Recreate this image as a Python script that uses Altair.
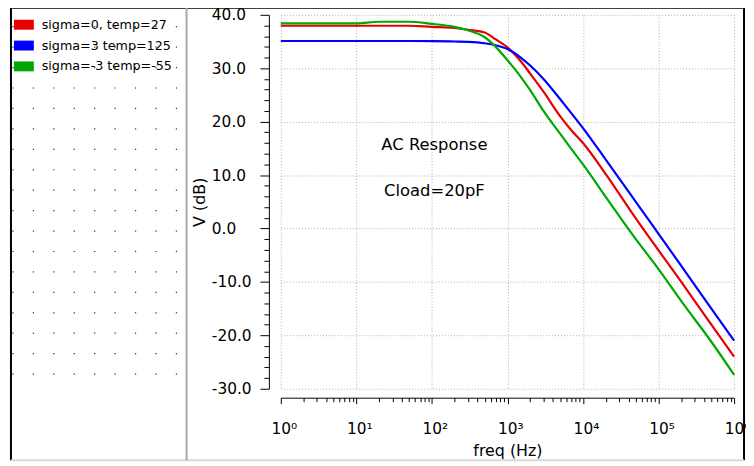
import altair as alt
import pandas as pd

# ---------------- data ----------------
freq = [1, 10, 20, 50, 100, 200, 300, 500, 700, 1000, 1500, 2000, 3000, 5000, 7000,
        10000, 20000, 50000, 100000, 200000, 500000, 1000000]
red_db = [37.95, 37.95, 37.95, 37.95, 37.75, 37.55, 37.2, 36.7, 35.4, 33.9, 31.3, 29.0,
          25.6, 21.0, 18.4, 16.0, 10.2, 1.9, -4.1, -10.0, -18.0, -24.0]
blue_db = [35.1, 35.1, 35.1, 35.1, 35.08, 35.0, 34.94, 34.68, 34.31, 33.6, 32.0, 30.5,
           28.0, 24.2, 21.6, 18.8, 12.9, 5.0, -1.0, -7.0, -15.0, -21.0]
green_db = [38.4, 38.4, 38.7, 38.7, 38.3, 37.75, 37.1, 35.8, 34.0, 31.5, 28.4, 25.9,
            22.0, 17.7, 14.9, 12.0, 5.9, -2.0, -7.6, -13.6, -21.2, -27.4]
series_names = ["sigma=0, temp=27", "sigma=3 temp=125", "sigma=-3 temp=-55"]
series_colors = ["#e60000", "#0000ff", "#00a800"]

major_x = [1, 10, 100, 1000, 10000, 100000, 1000000]
minor_x = [m * d for d in [1, 10, 100, 1000, 10000, 100000] for m in range(2, 10)]
major_y = [-30, -20, -10, 0, 10, 20, 30, 40]
minor_y = [v for v in range(-30, 41, 2) if v % 10 != 0]

ann_text = ["AC Response", "Cload=20pF"]
ann_x = [108, 108]
ann_y = [15.6, 7.1]

# ---------------- tables ----------------
rows = []
for name, vals in zip(series_names, [red_db, blue_db, green_db]):
    for f, v in zip(freq, vals):
        rows.append({"freq": f, "db": v, "series": name})
df = pd.DataFrame(rows)
ann = pd.DataFrame({"freq": ann_x, "db": ann_y, "text": ann_text})

# ---------------- layout (pixels, relative to the plot's top-left corner) ----------------
PLOT_X0, PLOT_Y0 = 283, 13          # page position of the plot origin
LEG_X, LEG_Y, LEG_ROW = 14, 23, 21  # legend swatch left, first row centre, row step
SW_W, SW_H, LBL_GAP = 20, 10, 8

leg = pd.DataFrame({"series": series_names})
leg["row"] = range(len(leg))
leg["x1"] = LEG_X - PLOT_X0
leg["x2"] = leg["x1"] + SW_W
leg["yc"] = LEG_Y - PLOT_Y0 + LEG_ROW * leg["row"]
leg["y1"] = leg["yc"] - SW_H / 2
leg["y2"] = leg["yc"] + SW_H / 2
leg["tx"] = leg["x2"] + LBL_GAP

# decorative dotted background of the legend panel
dot_cols = [13 + 20.6 * i - PLOT_X0 for i in range(9)]
dot_rows = [25 + 20.6 * j - PLOT_Y0 for j in range(18)]
dots = pd.DataFrame([{"px": x, "py": y} for x in dot_cols for y in dot_rows])

FONT = "DejaVu Sans"
W, H = 457, 377

x_scale = alt.Scale(type="log", domain=[1, 1000000], nice=False)
y_scale = alt.Scale(domain=[-30, 40], nice=False, zero=False)
c_scale = alt.Scale(domain=series_names, range=series_colors)

sup = "['\u2070','\u00b9','\u00b2','\u00b3','\u2074','\u2075','\u2076']"
x_axis = alt.Axis(values=major_x, labelExpr="'10' + " + sup + "[round(log(datum.value)/LN10)]",
                  title="freq (Hz)", titleFont=FONT, titleFontSize=16, titleFontWeight="normal",
                  titleColor="black", titlePadding=6, labelFont=FONT, labelFontSize=15.5,
                  labelColor="black", labelPadding=18, labelOffset=3, labelOverlap=False,
                  labelFlush=False, tickSize=6, tickColor="black", domainColor="black", offset=9,
                  grid=True, gridColor="#b0b0b0", gridDash=[1, 2], orient="bottom")
y_axis = alt.Axis(values=major_y, labelExpr="replace(format(datum.value, '.1f'), '\u2212', '-')",
                  title="V (dB)", titleFont=FONT, titleFontSize=16, titleFontWeight="normal",
                  titleColor="black", titlePadding=4, labelFont=FONT, labelFontSize=15.5,
                  labelColor="black", labelPadding=49, labelAlign="left", labelOverlap=False,
                  labelFlush=False, tickSize=9, tickColor="black", domainColor="black",
                  offset=12, grid=True, gridColor="#b0b0b0", gridDash=[1, 2], orient="left")

lines = alt.Chart(df).mark_line(strokeWidth=2.2, interpolate="monotone").encode(
    x=alt.X("freq:Q", scale=x_scale, axis=x_axis),
    y=alt.Y("db:Q", scale=y_scale, axis=y_axis),
    color=alt.Color("series:N", sort=series_names, scale=c_scale, legend=None),
)

minor = alt.Chart(df).mark_point(opacity=0).encode(
    x=alt.X("freq:Q", scale=x_scale,
            axis=alt.Axis(values=minor_x, labels=False, grid=False, domain=False, tickSize=4,
                          tickColor="black", offset=9, title=None, orient="bottom")),
    y=alt.Y("db:Q", scale=y_scale,
            axis=alt.Axis(values=minor_y, labels=False, grid=False, domain=False, tickSize=5,
                          tickColor="black", offset=12, title=None, orient="left")),
)

texts = alt.Chart(ann).mark_text(font=FONT, fontSize=16.5, color="black", align="center",
                                 baseline="middle").encode(
    x=alt.X("freq:Q", scale=x_scale, axis=None),
    y=alt.Y("db:Q", scale=y_scale, axis=None),
    text="text:N")

dot_layer = alt.Chart(dots).mark_square(size=1.5, color="#333333", opacity=1).encode(
    x=alt.X("px:Q", scale=None), y=alt.Y("py:Q", scale=None))

# legend (drawn in the left panel, colours through the shared colour scale)
leg_swatch = alt.Chart(leg).mark_rect().encode(
    x=alt.X("x1:Q", scale=None), x2="x2:Q",
    y=alt.Y("y1:Q", scale=None), y2="y2:Q",
    color=alt.Color("series:N", scale=c_scale, legend=None))
leg_label = alt.Chart(leg).mark_text(font=FONT, fontSize=12.8, color="black", align="left",
                                     baseline="middle").encode(
    x=alt.X("tx:Q", scale=None), y=alt.Y("yc:Q", scale=None), text="series:N")

one = alt.Data(values=[{"k": 1}])


def rule(color, width, **enc):
    return alt.Chart(one).mark_rule(color=color, strokeWidth=width).encode(
        **{k: alt.value(v) for k, v in enc.items()})


frame = [
    rule("black", 2, x=-272, y=-7, y2=449),          # left border
    rule("black", 2, x=-272, x2=467, y=-7),          # top border
    rule("black", 2, x=467, y=-7, y2=449),           # right border
    rule("#d8d8d8", 2, x=-272, x2=467, y=449),       # bottom border
    rule("#a8a8a8", 2, x=-95, y=-7, y2=449),         # panel separator
]

chart = alt.layer(dot_layer, *frame, leg_swatch, leg_label, minor, texts, lines).resolve_axis(
    x="independent", y="independent"
).properties(
    width=W, height=H,
    autosize=alt.AutoSizeParams(type="none"),
    padding={"left": 275, "top": 5, "right": 12, "bottom": 76},
    background="white",
).configure_view(stroke=None)

chart.save("out.html", embed_options={"renderer": "svg", "actions": False})
